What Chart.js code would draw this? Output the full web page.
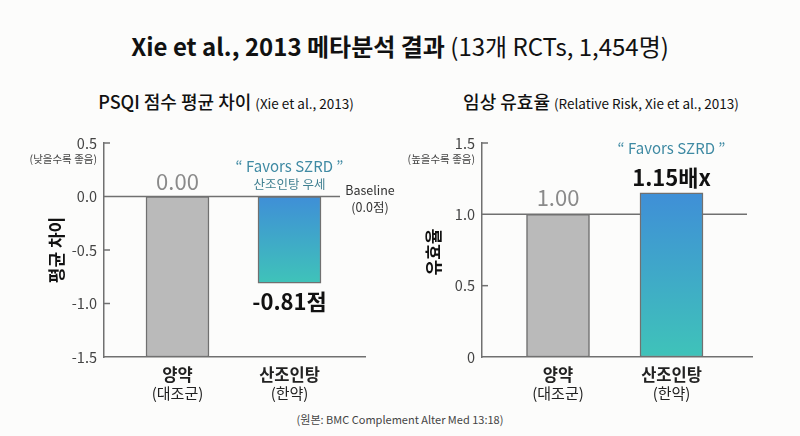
<!DOCTYPE html>
<html>
<head>
<meta charset="utf-8">
<script src="https://cdn.jsdelivr.net/npm/chart.js@4.4.1/dist/chart.umd.min.js"></script>
<style>
  html,body{margin:0;padding:0;}
  body{width:800px;height:436px;background:#fcfcfb;position:relative;overflow:hidden;
       font-family:"Noto Sans CJK KR","Noto Sans",sans-serif;color:#111;}
  .t{position:absolute;white-space:nowrap;transform:translate(-50%,-50%);}
  #title{left:400px;top:45px;font-size:24px;}
  #title b{font-weight:700;}
  #title span{font-weight:400;}
  .sub{top:101px;font-size:18px;font-weight:500;}
  .sub small{font-size:13.5px;font-weight:400;}
  #subL{left:226px;}
  #subR{left:601px;}
  #src{left:400px;top:419px;font-size:11px;color:#444;}
  .box{position:absolute;top:0;width:400px;height:436px;}
  #boxL{left:0;} #boxR{left:400px;}
</style>
</head>
<body>
<div id="title" class="t"><b>Xie et al., 2013 메타분석 결과</b> <span>(13개 RCTs, 1,454명)</span></div>
<div id="subL" class="t sub">PSQI 점수 평균 차이 <small>(Xie et al., 2013)</small></div>
<div id="subR" class="t sub">임상 유효율 <small>(Relative Risk, Xie et al., 2013)</small></div>
<div id="src" class="t">(원본: BMC Complement Alter Med 13:18)</div>
<div id="boxL" class="box"><canvas id="cL"></canvas></div>
<div id="boxR" class="box"><canvas id="cR"></canvas></div>
<script>
// ---- data ----
const categories = ['양약', '산조인탕'];
const categorySubs = ['(대조군)', '(한약)'];
const psqiDiff = [0.00, -0.81];          // PSQI mean difference
const psqiLabels = ['0.00', '-0.81점'];
const psqiTicks = [-1.5, -1.0, -0.5, 0.0, 0.5];
const rrValues = [1.00, 1.15];           // relative risk
const rrLabels = ['1.00', '1.15배x'];
const rrTicks = [0, 0.5, 1.0, 1.5];

const FONT = '"Noto Sans CJK KR","Noto Sans",sans-serif';
const AXIS = '#707070';

function gradientFill(ctx, topVal, botVal, idx) {
  const c = ctx.chart;
  if (idx === 0) return '#bababa';
  if (!c.chartArea) return '#3fa6cc';
  const y = c.scales.y;
  const g = c.ctx.createLinearGradient(0, y.getPixelForValue(topVal), 0, y.getPixelForValue(botVal));
  g.addColorStop(0, '#3f8fd7');
  g.addColorStop(1, '#3fc3b9');
  return g;
}

const annot = {
  id: 'annot',
  beforeDatasetsDraw(chart, args, o) {
    const {ctx, chartArea: a, scales: {y}} = chart;
    ctx.save();
    ctx.strokeStyle = AXIS; ctx.lineWidth = 1.5;
    const yy = y.getPixelForValue(o.refValue);
    ctx.beginPath(); ctx.moveTo(a.left, yy); ctx.lineTo(o.refEnd, yy); ctx.stroke();
    o.ticks.forEach(v => {
      const p = y.getPixelForValue(v);
      ctx.beginPath(); ctx.moveTo(a.left, p); ctx.lineTo(a.left + 6, p); ctx.stroke();
    });
    ctx.restore();
  },
  afterDatasetsDraw(chart, args, o) {
    const {ctx, chartArea: a, scales: {x, y}} = chart;
    ctx.save();
    ctx.textBaseline = 'middle';
    const txt = (s, px, py, font, color, align) => {
      ctx.font = font; ctx.fillStyle = color; ctx.textAlign = align || 'center';
      ctx.fillText(s, px, py);
    };
    categories.forEach((c, i) => {
      const px = x.getPixelForValue(i + 1);
      txt(c, px, a.bottom + 18, '700 16.5px ' + FONT, '#222');
      txt(categorySubs[i], px, a.bottom + 36, '400 15px ' + FONT, '#222');
    });
    txt(o.hint, a.left - 7, y.getPixelForValue(o.hintValue) + 16, '400 10.5px ' + FONT, '#444', 'right');
    ctx.save();
    ctx.translate(o.yTitleX, o.yTitleY); ctx.rotate(-Math.PI / 2);
    txt(o.yTitle, 0, 0, '700 17px ' + FONT, '#111');
    ctx.restore();
    o.texts.forEach(t => {
      const px = t.i !== undefined ? x.getPixelForValue(t.i + 1) : t.x;
      const py = t.v !== undefined ? y.getPixelForValue(t.v) + t.dy : t.y;
      txt(t.s, px, py, t.font, t.color, t.align);
    });
    ctx.restore();
  }
};

function baseOptions(yMin, yMax, xMin, xMax, areaLeft, padRight, tickFmt, ann) {
  return {
    responsive: true, maintainAspectRatio: false, animation: false,
    layout: {padding: {top: 143, bottom: 79, left: 0, right: padRight}},
    plugins: {legend: {display: false}, tooltip: {enabled: false}, annot: ann},
    scales: {
      x: {type: 'linear', min: xMin, max: xMax, offset: false,
          grid: {display: false, drawTicks: false},
          border: {display: true, color: AXIS, width: 1.5},
          ticks: {display: false},
          afterBuildTicks: s => { s.ticks = categories.map((c, i) => ({value: i + 1})); },
          afterFit: s => { s.height = 0; }},
      y: {min: yMin, max: yMax,
          grid: {display: false, drawTicks: false},
          border: {display: true, color: AXIS, width: 1.5},
          ticks: {stepSize: 0.5, padding: 7, color: '#444',
                  font: {family: FONT, size: 14.5}, callback: tickFmt},
          afterFit: s => { s.width = areaLeft; }}
    }
  };
}

// ---- left chart ----
new Chart(document.getElementById('cL'), {
  type: 'bar',
  data: {
    datasets: [{
      data: psqiDiff.map((v, i) => ({x: i + 1, y: i === 0 ? [psqiTicks[0], v] : [0, v]})),
      backgroundColor: ctx => gradientFill(ctx, 0, psqiDiff[1], ctx.dataIndex),
      borderColor: AXIS, borderWidth: 1.5, borderSkipped: false, barThickness: 63
    }]
  },
  options: baseOptions(-1.5, 0.5, 0.3438, 2.6741, 104, 35,
    v => v.toFixed(1),
    {refValue: 0, refEnd: 340, ticks: [0.5, -0.5, -1.0],
     hint: '(낮을수록 좋음)', hintValue: 0.5,
     yTitle: '평균 차이', yTitleX: 57, yTitleY: 250,
     texts: [
       {s: psqiLabels[0], i: 0, v: psqiDiff[0], dy: -15, font: '400 22px ' + FONT, color: '#8a8a8a'},
       {s: '“ Favors SZRD ”', i: 1, v: psqiDiff[0], dy: -30, font: '400 15px ' + FONT, color: '#3f8aa3'},
       {s: '산조인탕 우세', i: 1, v: psqiDiff[0], dy: -12, font: '400 12.5px ' + FONT, color: '#3f7f90'},
       {s: 'Baseline', x: 370, y: 190, font: '400 12.5px ' + FONT, color: '#333'},
       {s: '(0.0점)', x: 370, y: 207, font: '400 12.5px ' + FONT, color: '#333'},
       {s: psqiLabels[1], i: 1, v: psqiDiff[1], dy: 18, font: '700 22px ' + FONT, color: '#111'}
     ]})
  , plugins: [annot]
});

// ---- right chart ----
new Chart(document.getElementById('cR'), {
  type: 'bar',
  data: {
    datasets: [{
      data: rrValues.map((v, i) => ({x: i + 1, y: v})),
      backgroundColor: ctx => gradientFill(ctx, rrValues[1], 0, ctx.dataIndex),
      borderColor: AXIS, borderWidth: 1.5, borderSkipped: false, barThickness: 63
    }]
  },
  options: baseOptions(0, 1.5, 0.3304, 2.7093, 82, 48,
    v => v === 0 ? '0' : v.toFixed(1),
    {refValue: 1.0, refEnd: 347, ticks: [1.5, 0.5],
     hint: '(높을수록 좋음)', hintValue: 1.5,
     yTitle: '유효율', yTitleX: 34, yTitleY: 252,
     texts: [
       {s: rrLabels[0], i: 0, v: rrValues[0], dy: -17, font: '400 22px ' + FONT, color: '#8a8a8a'},
       {s: '“ Favors SZRD ”', i: 1, v: rrValues[1], dy: -45, font: '400 15px ' + FONT, color: '#3f8aa3'},
       {s: rrLabels[1], i: 1, v: rrValues[1], dy: -15, font: '700 22px ' + FONT, color: '#111'}
     ]})
  , plugins: [annot]
});
</script>
</body>
</html>
